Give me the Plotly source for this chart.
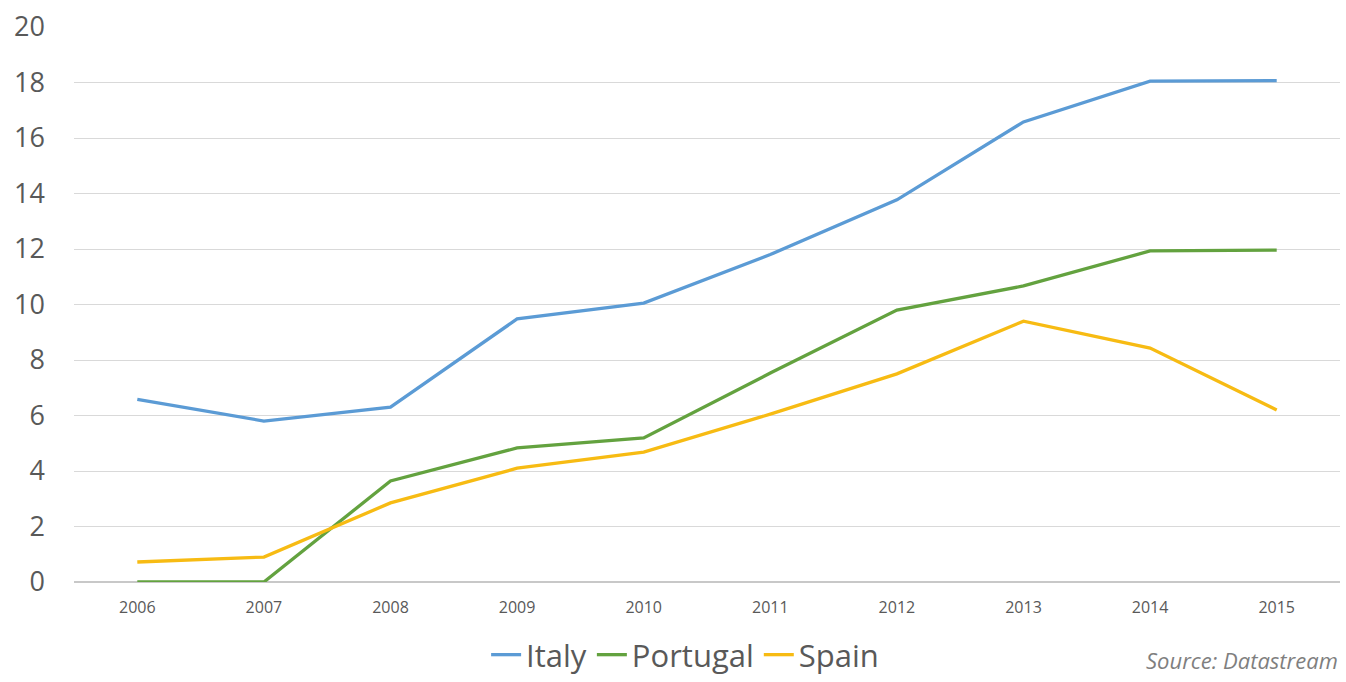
import plotly.graph_objects as go

years = ["2006", "2007", "2008", "2009", "2010", "2011", "2012", "2013", "2014", "2015"]
italy = [6.58, 5.8, 6.3, 9.48, 10.05, 11.8, 13.77, 16.58, 18.05, 18.07]
portugal = [0.0, 0.0, 3.64, 4.83, 5.19, 7.53, 9.8, 10.67, 11.93, 11.96]
spain = [0.72, 0.9, 2.85, 4.1, 4.68, 6.05, 7.5, 9.4, 8.43, 6.2]

series = [
    ("Italy", italy, "#5b9bd5"),
    ("Portugal", portugal, "#63a23f"),
    ("Spain", spain, "#f7bb13"),
]

fig = go.Figure()
for name, vals, color in series:
    fig.add_trace(go.Scatter(
        x=years, y=vals, name=name, mode="lines",
        line=dict(color=color, width=3.3),
    ))

fig.update_layout(
    width=1346, height=682,
    margin=dict(l=74, r=6, t=27, b=100),
    paper_bgcolor="white", plot_bgcolor="white",
    font=dict(family="Open Sans", color="#595959"),
    showlegend=True,
    legend=dict(
        orientation="h", x=0.509, xanchor="center", xref="container",
        y=0.0, yanchor="bottom", yref="container",
        font=dict(size=31, color="#595959"), itemwidth=30,
        tracegroupgap=0, borderwidth=0,
    ),
    xaxis=dict(
        type="category", showgrid=False, showline=False, ticks="",
        tickfont=dict(size=16, color="#595959"), ticklabelstandoff=14,
        range=[-0.5, 9.5],
    ),
    yaxis=dict(
        range=[0, 20], dtick=2, showgrid=True, gridcolor="#d9d9d9", gridwidth=1.3,
        zeroline=True, zerolinecolor="#c8c8c8", zerolinewidth=1.5,
        tickfont=dict(size=27, color="#595959"), ticklabelstandoff=28,
    ),
    annotations=[dict(
        text="<i>Source: Datastream</i>", xref="paper", yref="paper",
        x=1.0, y=-0.172, xanchor="right", yanchor="bottom",
        showarrow=False, font=dict(size=22, color="#7f7f7f"),
    )],
)

fig.write_html("out.html")
